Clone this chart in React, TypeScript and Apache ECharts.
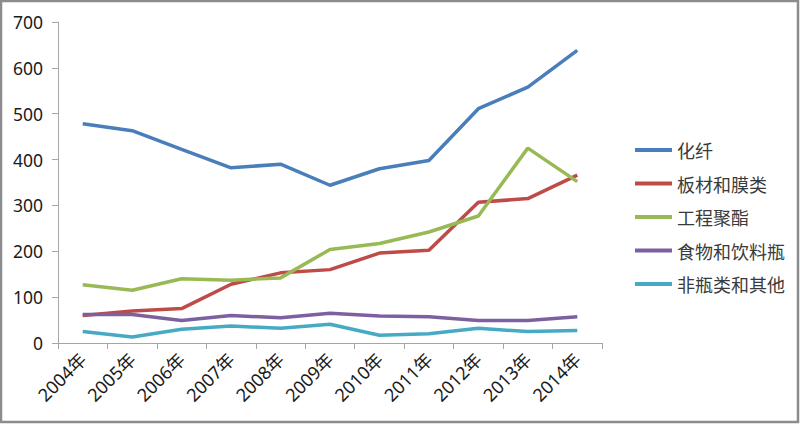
import React, { useEffect, useRef } from "react";
import * as echarts from "echarts";

const categories = ["2004年", "2005年", "2006年", "2007年", "2008年", "2009年", "2010年", "2011年", "2012年", "2013年", "2014年"];
const seriesNames = ["化纤", "板材和膜类", "工程聚酯", "食物和饮料瓶", "非瓶类和其他"];
const seriesColors = ["#4A7EBB", "#BE4B48", "#98B954", "#7D60A0", "#46AAC5"];
const fiber = [478, 463, 422, 382, 390, 344, 380, 398, 511, 558, 638];
const sheetFilm = [60, 70, 75, 128, 153, 160, 196, 202, 307, 315, 366];
const engPolyester = [127, 115, 140, 137, 142, 204, 217, 242, 277, 425, 352];
const bottles = [62, 62, 49, 60, 55, 65, 59, 57, 49, 49, 57];
const others = [25, 13, 30, 37, 32, 41, 17, 20, 32, 25, 27];
const seriesValues = [fiber, sheetFilm, engPolyester, bottles, others];

export default function App() {
  const ref = useRef<HTMLDivElement>(null);
  useEffect(() => {
    document.body.style.margin = "0";
    const chart = echarts.init(ref.current!, undefined, { renderer: "svg" });
    chart.setOption({
      animation: false,
      backgroundColor: "#ffffff",
      graphic: [
        {
          type: "rect",
          shape: { x: 1, y: 1, width: 797, height: 421 },
          style: { fill: "none", stroke: "#8c8c8c", lineWidth: 2.5 },
          silent: true,
        },
      ],
      grid: { left: 58, right: 198, top: 22, bottom: 81, containLabel: false },
      legend: {
        orient: "vertical",
        left: 630,
        top: 136,
        itemWidth: 37,
        itemHeight: 4,
        itemGap: 15.5,
        icon: "rect",
        data: seriesNames,
        textStyle: {
          fontSize: 18,
          lineHeight: 18,
          color: "#3a3a3a",
          fontFamily: "'Noto Sans CJK SC', 'Noto Sans', sans-serif",
        },
      },
      xAxis: {
        type: "category",
        data: categories,
        boundaryGap: true,
        axisLine: { lineStyle: { color: "#a6a6a6", width: 1 } },
        axisTick: { show: true, length: 6, lineStyle: { color: "#a6a6a6" } },
        axisLabel: {
          rotate: 45,
          margin: 13,
          fontSize: 18,
          color: "#1a1a1a",
          fontFamily: "'Noto Sans', 'Noto Sans CJK SC', sans-serif",
        },
        splitLine: { show: false },
      },
      yAxis: {
        type: "value",
        min: 0,
        max: 700,
        interval: 100,
        axisLine: { show: true, lineStyle: { color: "#a6a6a6", width: 1 } },
        axisTick: { show: true, length: 6, lineStyle: { color: "#a6a6a6" } },
        axisLabel: {
          margin: 15,
          fontSize: 17.5,
          color: "#1a1a1a",
          fontFamily: "'Noto Sans', sans-serif",
        },
        splitLine: { show: false },
      },
      series: seriesNames.map((name, i) => ({
        name,
        type: "line",
        data: seriesValues[i],
        symbol: "none",
        color: seriesColors[i],
        lineStyle: { width: 3.5, color: seriesColors[i] },
      })),
    });
    return () => chart.dispose();
  }, []);
  return <div ref={ref} style={{ width: 800, height: 424 }} />;
}
